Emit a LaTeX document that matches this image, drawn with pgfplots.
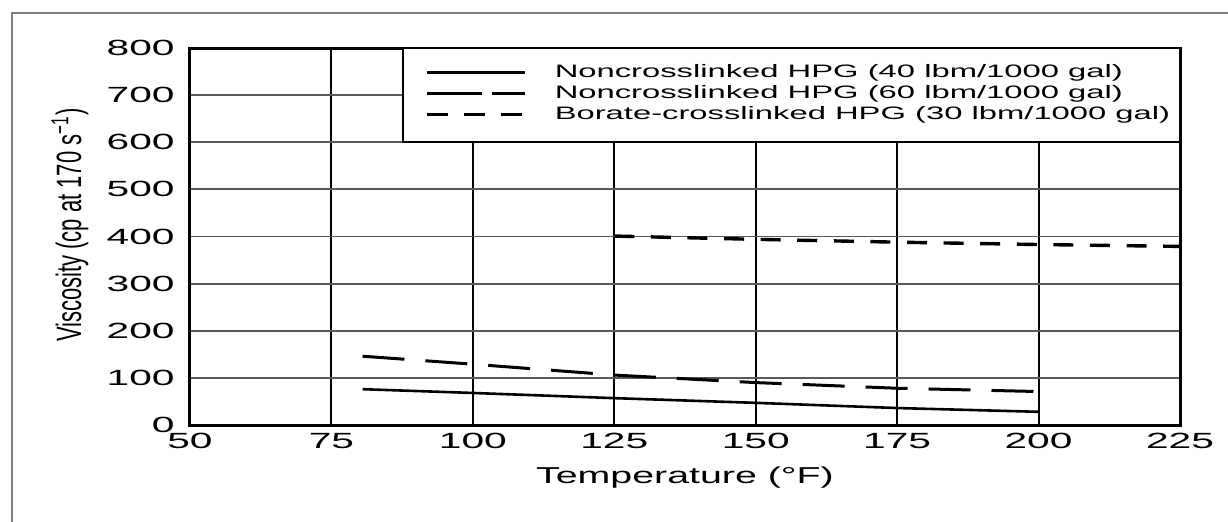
\documentclass[border=0pt]{standalone}
\usepackage{pgfplots}
\pgfplotsset{compat=1.18}
\usepackage{fontspec}
\setmainfont{Liberation Sans}
\usepackage{graphicx}
\newcommand{\tx}[1]{\scalebox{1.85}[1]{#1}}
\newcommand{\lx}[1]{\scalebox{1.82}[1]{#1}}

\begin{document}
\begin{tikzpicture}
\useasboundingbox (-95pt,-48pt) rectangle (519pt,212.5pt);
\draw[black!50, line width=1pt] (-89pt,-80pt) rectangle (560pt,206pt);
\begin{axis}[
  at={(0,0)}, anchor=south west,
  scale only axis, width=495pt, height=188.5pt,
  xmin=50, xmax=225, ymin=0, ymax=800,
  xtick={50,75,100,125,150,175,200,225},
  ytick={0,100,200,300,400,500,600,700,800},
  xticklabels={\tx{50},\tx{75},\tx{100},\tx{125},\tx{150},\tx{175},\tx{200},\tx{225}},
  yticklabels={\tx{0},\tx{100},\tx{200},\tx{300},\tx{400},\tx{500},\tx{600},\tx{700},\tx{800}},
  major tick length=0pt,
  tick label style={font=\fontsize{11}{12}\selectfont, inner sep=0pt},
  xticklabel style={anchor=north, yshift=-4pt},
  yticklabel style={anchor=east, xshift=-7.5pt},
  grid=major,
  x grid style={black, line width=1pt},
  y grid style={black!65, line width=0.9pt},
  axis line style={line width=1.5pt},
  xlabel={\scalebox{1.71}[1]{Temperature (°F)}},
  ylabel={\scalebox{1}[1.6]{Viscosity (cp at 170 s\textsuperscript{\char"2212 1})}},
  xlabel style={at={(axis description cs:0.5,-0.1406)}, anchor=center, font=\fontsize{11.5}{13}\selectfont},
  ylabel style={at={(axis description cs:-0.1212,0.53)}, anchor=center, font=\fontsize{11}{13}\selectfont},
  legend style={at={(0.2151,1)}, anchor=north west, draw=none, fill=none,
    font=\fontsize{9}{11}\selectfont, inner xsep=11pt, inner ysep=7pt,
    row sep=0.5pt, nodes={inner sep=1pt},
    /tikz/every odd column/.append style={column sep=13pt}},
  legend cell align=left,
  legend image code/.code={\draw[#1] (0pt,0pt) -- (49pt,0pt);},
]
\draw[fill=white, line width=1pt] (axis cs:87.65,600) rectangle (axis cs:225,800);

\addlegendimage{black, line width=1.3pt}
\addlegendentry{\lx{Noncrosslinked HPG (40 lbm/1000 gal)}}
\addlegendimage{black, line width=1.5pt, dash pattern=on 27.5pt off 5pt}
\addlegendentry{\lx{Noncrosslinked HPG (60 lbm/1000 gal)}}
\addlegendimage{black, line width=1.7pt, dash pattern=on 10.5pt off 8pt}
\addlegendentry{\lx{Borate-crosslinked HPG (30 lbm/1000 gal)}}

\addplot[black, line width=1.3pt, forget plot] coordinates {
  (80.5,76) (100,68) (125,57) (150,47) (175,36) (200,28)};
\addplot[black, line width=1.5pt, dash pattern=on 21pt off 10.5pt, forget plot] coordinates {
  (80.5,146) (100,129) (125,106) (150,90) (175,78) (200,71)};
\addplot[black, line width=1.7pt, dash pattern=on 10pt off 8.3pt, forget plot] coordinates {
  (125,401) (150,394) (175,388) (200,383) (225,379)};
\end{axis}
\end{tikzpicture}
\end{document}
